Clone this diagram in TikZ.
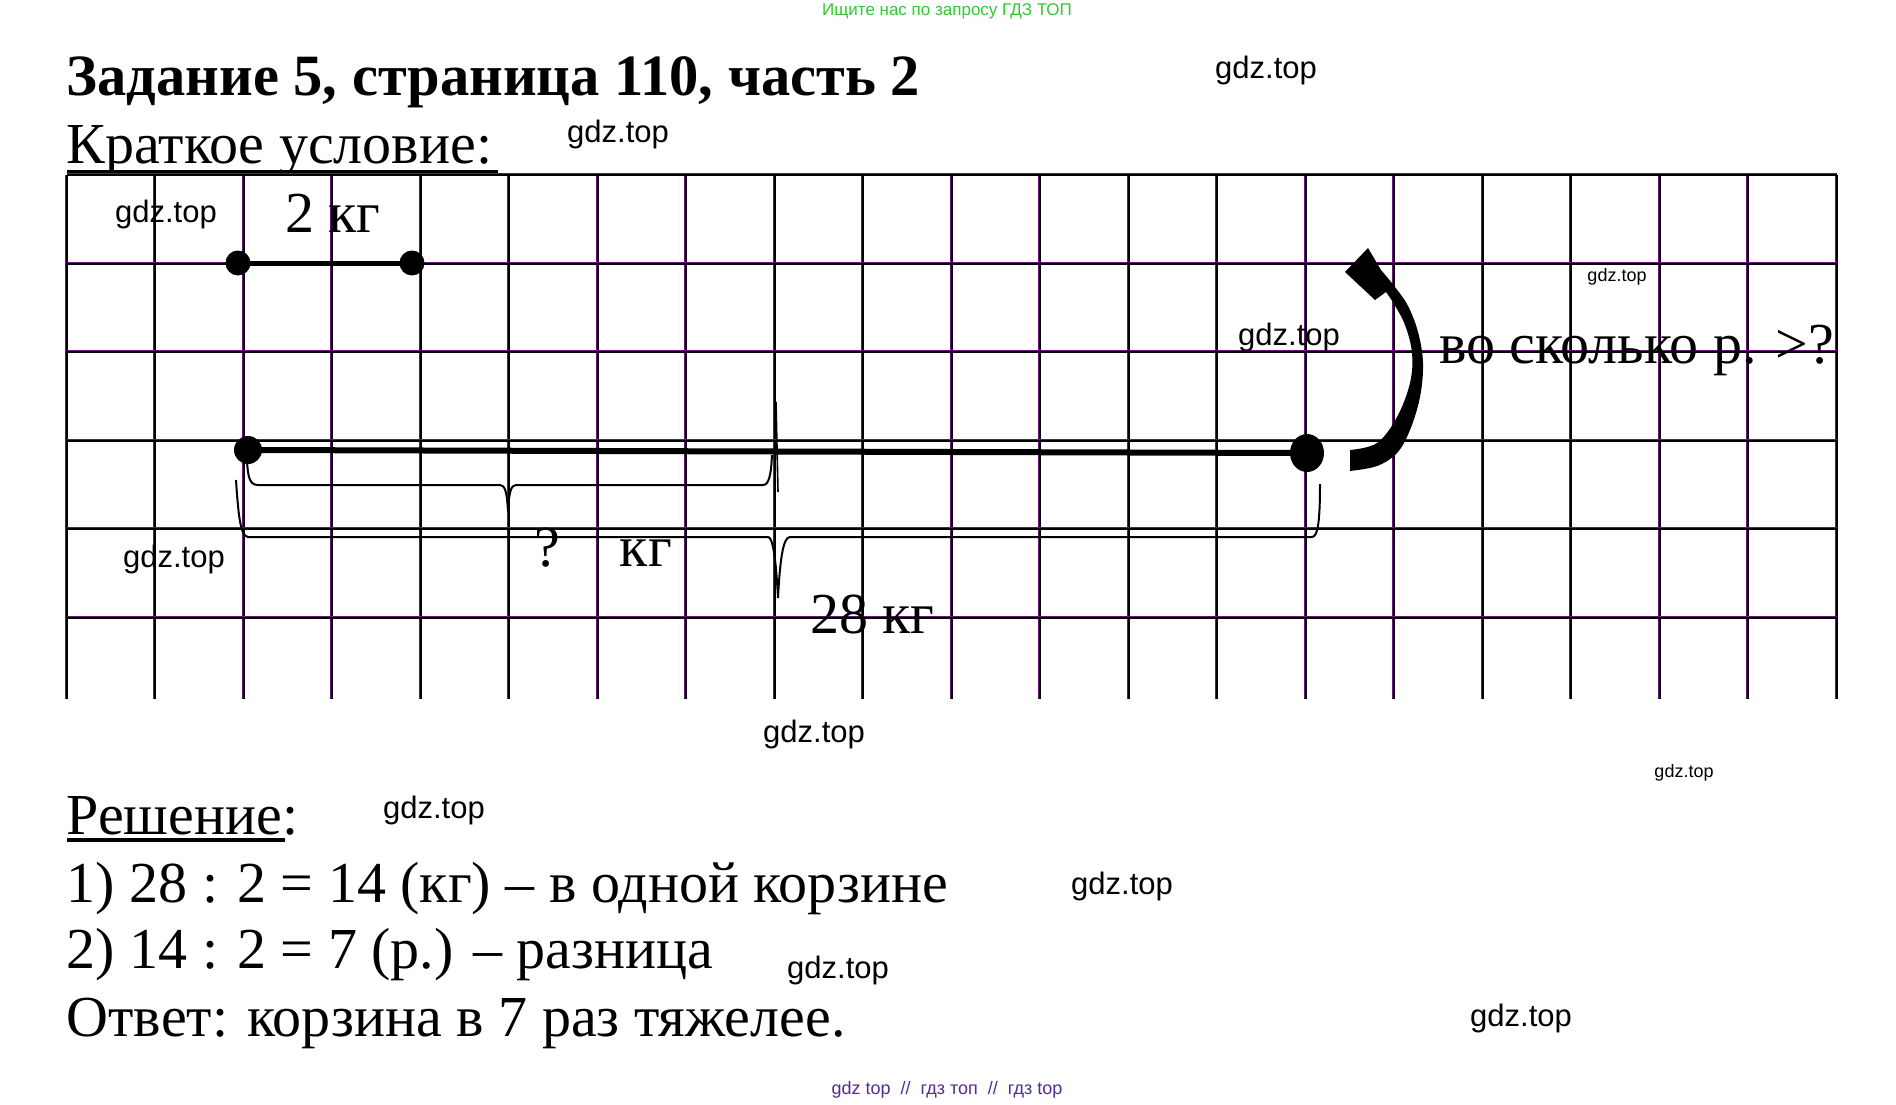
\documentclass[tikz,border=0pt]{standalone}
\usepackage{fontspec}
\setmainfont{Liberation Serif}
\newfontfamily\wmfont{Liberation Sans}
\usetikzlibrary{shapes.geometric}
\definecolor{gridpurple}{RGB}{105,20,120}
\definecolor{topgreen}{RGB}{50,200,50}
\definecolor{botpurple}{RGB}{85,45,140}
\tikzset{
  txt/.style={inner sep=0pt, anchor=base west, font=\fontsize{58}{60}\selectfont},
  wm/.style={inner sep=0pt, font=\wmfont\fontsize{31}{33}\selectfont},
  wmsmall/.style={inner sep=0pt, font=\wmfont\fontsize{18}{20}\selectfont},
  gridblack/.style={line width=2.2pt, black},
  gridpur/.style={line width=1.4pt, gridpurple},
  dotnode/.style={circle, fill=black, inner sep=0pt, minimum size=25pt},
  bigdot/.style={ellipse, fill=black, inner sep=0pt, minimum width=34pt, minimum height=38pt},
  seg/.style={line width=5pt, black},
  longseg/.style={line width=6pt, black},
  bracestyle/.style={line width=2pt, black},
}
\begin{document}
\begin{tikzpicture}[x=1pt,y=-1pt]
\useasboundingbox (0,0) rectangle (1896,1105);
\fill[white] (0,0) rectangle (1896,1105);

% header
\node[inner sep=0pt, font=\wmfont\fontsize{17}{19}\selectfont, text=topgreen] (hdr) at (947,11) {Ищите нас по запросу ГДЗ ТОП};
\node[txt, font=\bfseries\fontsize{58.5}{60}\selectfont] (title) at (66.5,96) {Задание 5, страница 110, часть 2};
\node[txt] (cond) at (66.5,164) {Краткое условие:};
\draw[line width=3.5pt] (66.5,171.5) -- (498,171.5);

% grid
\foreach \i in {0,...,20} {
  \pgfmathsetmacro\xx{66.5+88.5*\i}
  \draw[gridblack] (\xx,175) -- (\xx,699);
  \draw[gridpur] (\xx-1.3,175) -- (\xx-1.3,699);
}
\foreach \j in {0,...,5} {
  \pgfmathsetmacro\yy{175+88.5*\j}
  \draw[gridblack] (66.5,\yy) -- (1836.5,\yy);
  \draw[gridpur] (66.5,\yy-1.3) -- (1836.5,\yy-1.3);
}

% short segment
\node[dotnode] (s1) at (238,263) {};
\node[dotnode] (s2) at (412,263) {};
\draw[seg] (s1.center) -- (s2.center);
\node[txt] (twokg) at (285,232) {2 кг};

% long segment
\node[dotnode, minimum size=28pt] (l1) at (248,450) {};
\node[bigdot] (l2) at (1307,453) {};
\draw[longseg] (l1.center) -- (l2.center);

% braces
\draw[bracestyle] (247,461) .. controls (248,478) and (250,485) .. (258,485) -- (500,485)
  .. controls (505,485) and (507,492) .. (508,512)
  .. controls (509,492) and (511,485) .. (516,485) -- (763,485)
  .. controls (769,485) and (771,475) .. (772,455);
\draw[line width=1.6pt] (776,402) -- (778,492);
\draw[bracestyle] (236,480) .. controls (238,510) and (240,537) .. (248,537) -- (768,537)
  .. controls (773,537) and (776,560) .. (778,598)
  .. controls (780,560) and (783,537) .. (790,537) -- (1312,537)
  .. controls (1318,537) and (1320,520) .. (1320,484);
\node[txt] (qkg) at (534,566) {?\hspace{60pt}кг};
\node[txt] (kg28) at (810,633) {28 кг};

% curved arrow
\fill plot[smooth, tension=0.6] coordinates {(1381,270) (1395,287) (1408,306) (1418,332) (1423,363) (1420,397) (1410,430) (1397,453) (1377,466) (1350,471)}
  -- plot[smooth, tension=0.6] coordinates {(1350,450) (1377,443) (1397,417) (1410,383) (1412,353) (1405,325) (1394,304) (1386,292)}
  -- (1375,300) -- (1345,272) -- (1368,248) -- cycle;
\node[txt] (times) at (1439,363) {во сколько р. >?};

% solution
\node[txt] (sol) at (66.5,834) {Решение:};
\draw[line width=3.5pt] (66.5,840) -- (285,840);
\node[txt] (l1txt) at (66.5,902) {1) 28 : 2 = 14 (кг) – в одной корзине};
\node[txt] (l2txt) at (66.5,968) {2) 14 : 2 = 7 (р.) – разница};
\node[txt] (ans) at (66.5,1036) {Ответ: корзина в 7 раз тяжелее.};

% watermarks
\node[wm] (w1) at (1266,70) {gdz.top};
\node[wm] (w2) at (618,134) {gdz.top};
\node[wm] (w3) at (166,214) {gdz.top};
\node[wmsmall] (w4) at (1617,277) {gdz.top};
\node[wm] (w5) at (1289,337) {gdz.top};
\node[wm] (w6) at (174,559) {gdz.top};
\node[wm] (w7) at (814,734) {gdz.top};
\node[wmsmall] (w8) at (1684,773) {gdz.top};
\node[wm] (w9) at (434,810) {gdz.top};
\node[wm] (w10) at (1122,886) {gdz.top};
\node[wm] (w11) at (838,970) {gdz.top};
\node[wm] (w12) at (1521,1018) {gdz.top};
\node[inner sep=0pt, font=\wmfont\fontsize{18}{20}\selectfont, text=botpurple] (ftr) at (947,1090) {gdz top \ // \ гдз топ \ // \ гдз top};
\end{tikzpicture}
\end{document}
